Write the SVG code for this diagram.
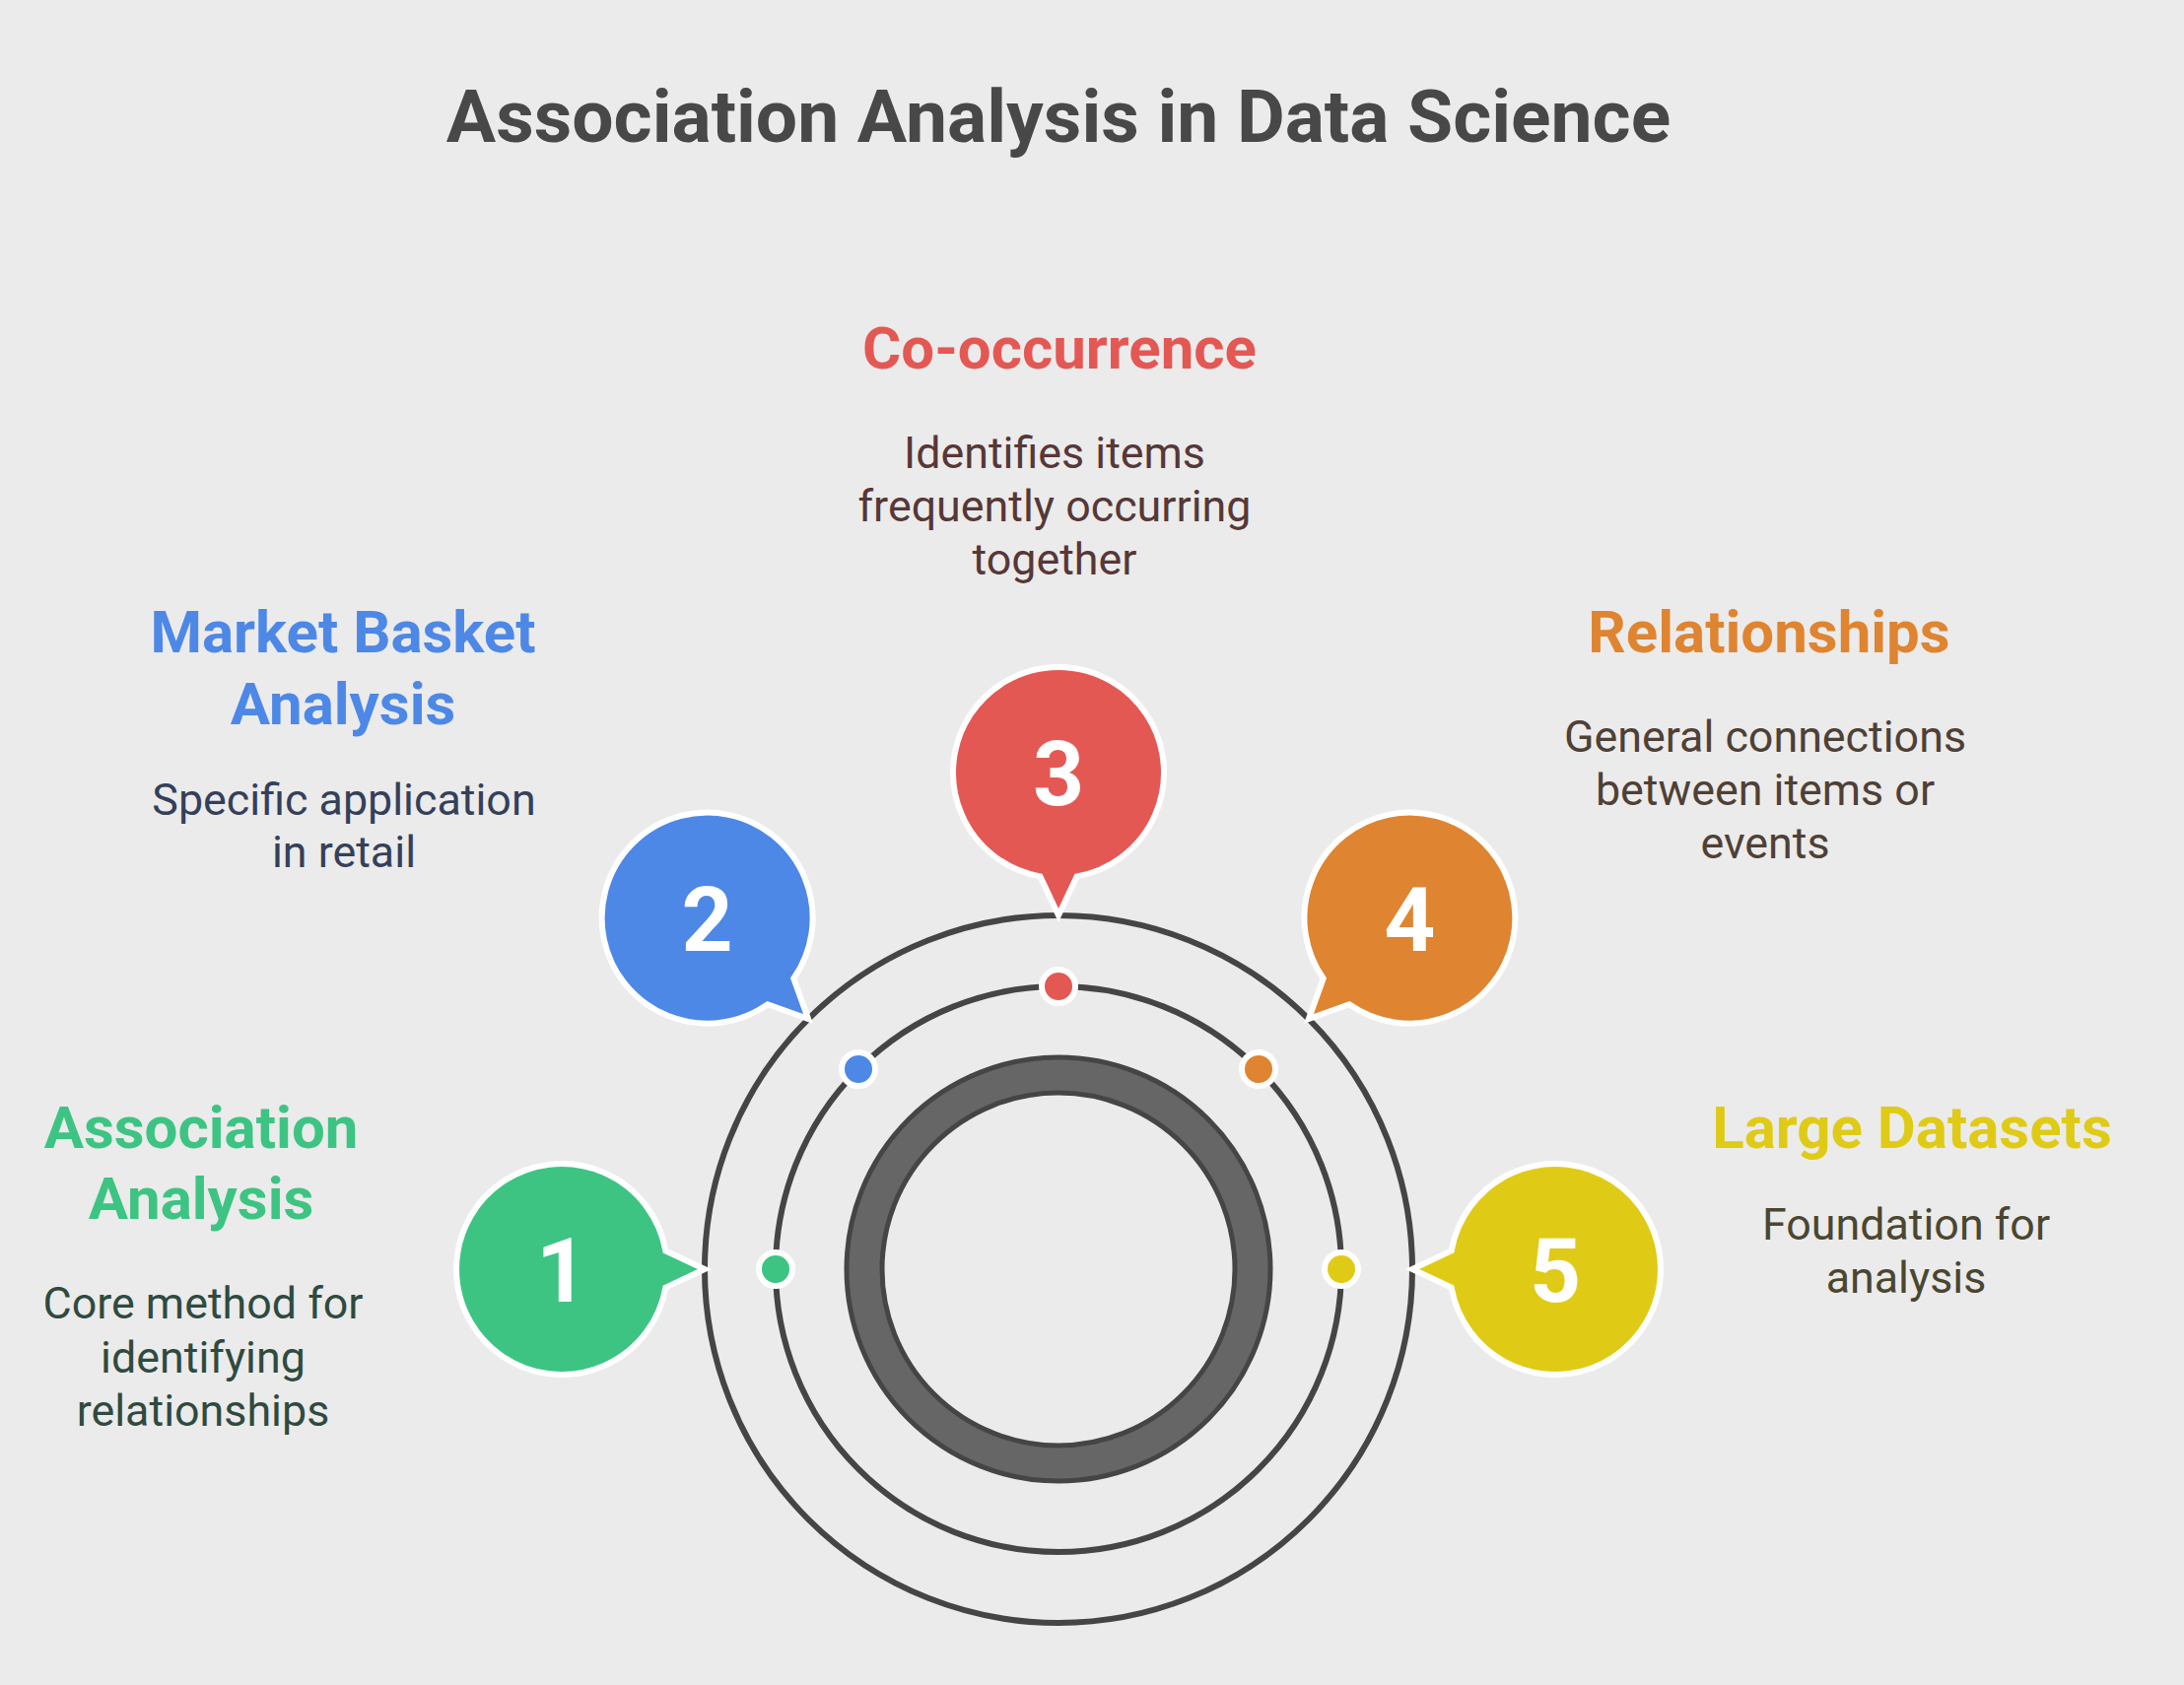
<svg xmlns="http://www.w3.org/2000/svg" width="2216" height="1710" viewBox="0 0 2216 1710">
  <defs>
    <style>
      text { font-family: Roboto, "Liberation Sans", sans-serif; text-anchor: middle; }
      .title { font-size: 75px; font-weight: 700; fill: #484848; }
      .head { font-size: 60px; font-weight: 700; }
      .desc { font-size: 44.8px; font-weight: 400; }
      .num { font-size: 91px; font-weight: 700; fill: #ffffff; }
      .bubble { stroke: #ffffff; stroke-width: 6; stroke-linejoin: miter; }
      .ring { fill: none; stroke: #454545; stroke-width: 6; }
      .dot { stroke: #ffffff; stroke-width: 6; }
    </style>
    <path id="bubbleShape" d="M -18.6,105.4 L 0,145 L 18.6,105.4 A 107 107 0 1 0 -18.6,105.4 Z"/>
  </defs>
  <rect x="0" y="0" width="2216" height="1710" fill="#ebebeb"/>

  <text class="title" x="1074" y="144">Association Analysis in Data Science</text>

  <g id="connectors">
    <circle class="ring" cx="1074" cy="1288" r="359"/>
    <circle class="ring" cx="1074" cy="1288" r="287"/>
  </g>

  <g id="core">
    <circle cx="1074" cy="1288" r="197" fill="none" stroke="#454545" stroke-width="41"/>
    <circle cx="1074" cy="1288" r="197" fill="none" stroke="#666666" stroke-width="31"/>
  </g>

  <g id="node1">
    <circle class="dot" cx="787" cy="1288" r="17" fill="#3dc483"/>
    <use href="#bubbleShape" class="bubble" fill="#3dc483" transform="translate(570,1288) rotate(-90)"/>
    <text class="num" x="570" y="1321">1</text>
    <text class="head" fill="#3dc483" x="204" y="1165">Association</text>
    <text class="head" fill="#3dc483" x="204" y="1237">Analysis</text>
    <text class="desc" fill="#2f4a3f" x="206" y="1338">Core method for</text>
    <text class="desc" fill="#2f4a3f" x="206" y="1393">identifying</text>
    <text class="desc" fill="#2f4a3f" x="206" y="1447">relationships</text>
  </g>

  <g id="node2">
    <circle class="dot" cx="871" cy="1085" r="17" fill="#4d88e6"/>
    <use href="#bubbleShape" class="bubble" fill="#4d88e6" transform="translate(717.6,931.6) rotate(-45)"/>
    <text class="num" x="717.6" y="964.6">2</text>
    <text class="head" fill="#4d88e6" x="348" y="662">Market Basket</text>
    <text class="head" fill="#4d88e6" x="348" y="735">Analysis</text>
    <text class="desc" fill="#34405a" x="349" y="827">Specific application</text>
    <text class="desc" fill="#34405a" x="349" y="880">in retail</text>
  </g>

  <g id="node3">
    <circle class="dot" cx="1074" cy="1001" r="17" fill="#e45854"/>
    <use href="#bubbleShape" class="bubble" fill="#e45854" transform="translate(1074,784)"/>
    <text class="num" x="1074" y="817">3</text>
    <text class="head" fill="#e45854" x="1075" y="374">Co-occurrence</text>
    <text class="desc" fill="#573737" x="1070" y="475">Identifies items</text>
    <text class="desc" fill="#573737" x="1070" y="529">frequently occurring</text>
    <text class="desc" fill="#573737" x="1070" y="583">together</text>
  </g>

  <g id="node4">
    <circle class="dot" cx="1277" cy="1085" r="17" fill="#df8430"/>
    <use href="#bubbleShape" class="bubble" fill="#df8430" transform="translate(1430.4,931.6) rotate(45)"/>
    <text class="num" x="1430.4" y="964.6">4</text>
    <text class="head" fill="#df8430" x="1795" y="662">Relationships</text>
    <text class="desc" fill="#4f4035" x="1791" y="763">General connections</text>
    <text class="desc" fill="#4f4035" x="1791" y="817">between items or</text>
    <text class="desc" fill="#4f4035" x="1791" y="871">events</text>
  </g>

  <g id="node5">
    <circle class="dot" cx="1361" cy="1288" r="17" fill="#dfcb16"/>
    <use href="#bubbleShape" class="bubble" fill="#dfcb16" transform="translate(1578,1288) rotate(90)"/>
    <text class="num" x="1578" y="1321">5</text>
    <text class="head" fill="#dfcb16" x="1940" y="1165">Large Datasets</text>
    <text class="desc" fill="#4a4631" x="1934" y="1258">Foundation for</text>
    <text class="desc" fill="#4a4631" x="1934" y="1312">analysis</text>
  </g>
</svg>
